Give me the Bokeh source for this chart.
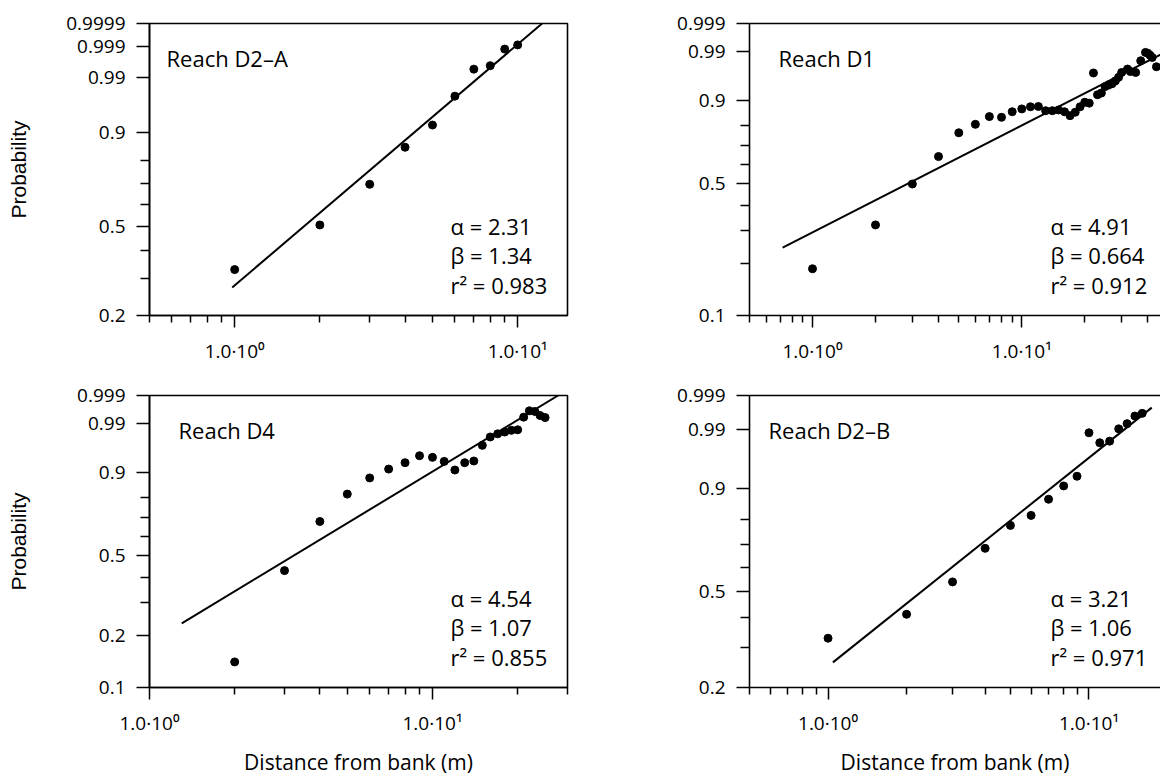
import numpy as np
from bokeh.plotting import figure
from bokeh.models import FixedTicker, Range1d, Label, LogAxis
from bokeh.layouts import column, row
from bokeh.embed import file_html
from bokeh.resources import INLINE

FONT = "Open Sans"

# ---------------- data ----------------
# Reach D2-A
d2a_x = [1, 2, 3, 4, 5, 6, 7, 8, 9, 10]
d2a_p = [0.330, 0.507, 0.695, 0.851, 0.920, 0.974, 0.9942, 0.9954, 0.9987, 0.9991]
d2a_fit_x = [0.98, 12.2]
d2a_fit_p = [0.273, 0.9999]
d2a_stats = ["\u03b1 = 2.31", "\u03b2 = 1.34", "r\u00b2 = 0.983"]

# Reach D1
d1_x = [1, 2, 3, 4, 5, 6, 7, 8, 9, 10, 11, 12, 13, 14, 15, 16, 17, 18, 19, 20,
        21, 22, 23, 24, 25, 26, 27, 28, 29, 30, 32, 33, 35, 37, 39, 40, 41, 42, 44]
d1_p = [0.186, 0.320, 0.500, 0.642, 0.764, 0.804, 0.838, 0.835, 0.858, 0.869,
        0.877, 0.878, 0.862, 0.862, 0.865, 0.858, 0.842, 0.856, 0.877, 0.893,
        0.890, 0.9666, 0.917, 0.922, 0.939, 0.943, 0.946, 0.952, 0.959, 0.9675,
        0.9726, 0.969, 0.9675, 0.9826, 0.9896, 0.9890, 0.9875, 0.9857, 0.9757]
d1_fit_x = [0.72, 46]
d1_fit_p = [0.243, 0.988]
d1_stats = ["\u03b1 = 4.91", "\u03b2 = 0.664", "r\u00b2 = 0.912"]

# Reach D4
d4_x = [2, 3, 4, 5, 6, 7, 8, 9, 10, 11, 12, 13, 14, 15, 16, 17, 18, 19, 20,
        21, 22, 23, 24, 25]
d4_p = [0.141, 0.430, 0.679, 0.814, 0.880, 0.910, 0.9285, 0.9458, 0.942, 0.932,
        0.907, 0.9285, 0.933, 0.966, 0.9779, 0.9815, 0.9833, 0.9849, 0.9854,
        0.9937, 0.9961, 0.9959, 0.9944, 0.9935]
d4_fit_x = [1.3, 27.8]
d4_fit_p = [0.232, 0.999]
d4_stats = ["\u03b1 = 4.54", "\u03b2 = 1.07", "r\u00b2 = 0.855"]

# Reach D2-B
d2b_x = [1, 2, 3, 4, 5, 6, 7, 8, 9, 10, 11, 12, 13, 14, 15, 16]
d2b_p = [0.3285, 0.410, 0.538, 0.682, 0.777, 0.815, 0.870, 0.908, 0.931, 0.9884,
         0.981, 0.9824, 0.9906, 0.9930, 0.9956, 0.9963]
d2b_fit_x = [1.044, 17.4]
d2b_fit_p = [0.259, 0.9975]
d2b_stats = ["\u03b1 = 3.21", "\u03b2 = 1.06", "r\u00b2 = 0.971"]

# tick labels
x_major_ticks = [1, 10]
x_major_labels = ["1.0\u00b710\u2070", "1.0\u00b710\u00b9"]
d2a_yticks = ["0.2", "0.5", "0.9", "0.99", "0.999", "0.9999"]
d1_yticks = ["0.1", "0.5", "0.9", "0.99", "0.999"]
d4_yticks = ["0.1", "0.2", "0.5", "0.9", "0.99", "0.999"]
d2b_yticks = ["0.2", "0.5", "0.9", "0.99", "0.999"]
y_minor_a = [0.3, 0.4, 0.6, 0.7, 0.8]
y_minor_b = [0.2, 0.3, 0.4, 0.6, 0.7, 0.8]
x_minor_low = [0.5, 0.6, 0.7, 0.8, 0.9, 2, 3, 4, 5, 6, 7, 8, 9]
x_minor_d1 = x_minor_low + [20, 30, 40]
x_minor_d4 = [2, 3, 4, 5, 6, 7, 8, 9, 20, 30]


def weib(p):
    """Weibull probability-paper coordinate."""
    p = np.asarray(p, dtype=float)
    return np.log(-np.log(1.0 - p))


LEFT_BORDER = 149


def make_panel(name, xs, ps, fit_x, fit_p, stats, x_start, x_end, x_minor,
               y_labels, y_minor, width, height, top, bottom, right,
               is_left, is_bottom, ylabel_standoff, reach_dx):
    y_vals = [float(weib(float(s))) for s in y_labels]
    y0, y1 = y_vals[0], y_vals[-1]
    fw = width - LEFT_BORDER - right
    fh = height - top - bottom

    p = figure(frame_width=fw, frame_height=fh, x_axis_type="log",
               x_range=Range1d(x_start, x_end), y_range=Range1d(y0, y1),
               output_backend="svg", toolbar_location=None, title=None,
               min_border_left=LEFT_BORDER, min_border_right=right,
               min_border_top=top, min_border_bottom=bottom)
    p.background_fill_color = "white"
    p.border_fill_color = "white"
    p.xgrid.visible = False
    p.ygrid.visible = False

    # x axis (the one below)
    xa = p.below[0]
    xa.ticker = FixedTicker(ticks=x_major_ticks, minor_ticks=x_minor)
    xa.major_label_overrides = {t: lab for t, lab in zip(x_major_ticks, x_major_labels)}
    xa.axis_line_color = "black"
    xa.axis_line_width = 1.6
    xa.major_tick_line_color = "black"
    xa.major_tick_line_width = 1.5
    xa.minor_tick_line_color = "black"
    xa.minor_tick_line_width = 1.5
    xa.major_tick_in = 0
    xa.major_tick_out = 12
    xa.minor_tick_in = 0
    xa.minor_tick_out = 7
    xa.major_label_standoff = 10
    xa.major_label_text_font = FONT
    xa.major_label_text_font_size = "19px"
    xa.major_label_text_color = "black"
    if is_bottom:
        xa.axis_label = "Distance from bank (m)"
        xa.axis_label_text_font = FONT
        xa.axis_label_text_font_size = "21px"
        xa.axis_label_text_font_style = "normal"
        xa.axis_label_text_color = "black"
        xa.axis_label_standoff = 9

    # y axis
    ya = p.left[0]
    ya.ticker = FixedTicker(ticks=y_vals, minor_ticks=[float(v) for v in weib(y_minor)])
    ya.major_label_overrides = {v: lab for v, lab in zip(y_vals, y_labels)}
    ya.axis_line_color = "black"
    ya.axis_line_width = 1.6
    ya.major_tick_line_color = "black"
    ya.major_tick_line_width = 1.5
    ya.minor_tick_line_color = "black"
    ya.minor_tick_line_width = 1.5
    ya.major_tick_in = 0
    ya.major_tick_out = 13
    ya.minor_tick_in = 0
    ya.minor_tick_out = 9
    ya.major_label_standoff = 11
    ya.major_label_text_font = FONT
    ya.major_label_text_font_size = "19px"
    ya.major_label_text_color = "black"
    if is_left:
        ya.axis_label = "Probability"
        ya.axis_label_text_font = "Liberation Sans"
        ya.axis_label_text_font_size = "21px"
        ya.axis_label_text_font_style = "normal"
        ya.axis_label_text_color = "black"
        ya.axis_label_standoff = ylabel_standoff

    if is_left:
        p.outline_line_color = "black"
        p.outline_line_width = 1.6
        p.outline_line_alpha = 1.0
    else:
        p.outline_line_color = None
        top_axis = LogAxis(ticker=FixedTicker(ticks=[]),
                           major_tick_line_color=None,
                           minor_tick_line_color=None,
                           major_tick_out=0, major_tick_in=0,
                           minor_tick_out=0, minor_tick_in=0,
                           major_label_text_font_size="0px",
                           axis_line_color="black", axis_line_width=1.6)
        p.add_layout(top_axis, "above")

    # fitted line and observations
    p.line(fit_x, weib(fit_p), line_color="black", line_width=2)
    p.scatter(xs, weib(ps), size=8, fill_color="black", line_color="black")

    # helper: position inside the frame given pixel offsets from top-left
    def at(dx, dy):
        x = x_start * (x_end / x_start) ** (dx / fw)
        y = y1 - (y1 - y0) * dy / fh
        return x, y

    lx, ly = at(reach_dx, 34)
    p.add_layout(Label(x=lx, y=ly, text=name, text_font=FONT,
                       text_font_size="22px", text_color="black",
                       text_baseline="middle", text_align="left"))
    for i, s in enumerate(stats):
        sx, sy = at(301, 202 + 29.5 * i)
        p.add_layout(Label(x=sx, y=sy, text=s, text_font=FONT,
                           text_font_size="22px", text_color="black",
                           text_baseline="middle", text_align="left"))
    return p


p_d2a = make_panel("Reach D2\u2013A", d2a_x, d2a_p, d2a_fit_x, d2a_fit_p, d2a_stats,
                   0.5, 15, x_minor_low, d2a_yticks, y_minor_a,
                   600, 363, 23, 48, 33, True, False, 33, 17)
p_d1 = make_panel("Reach D1", d1_x, d1_p, d1_fit_x, d1_fit_p, d1_stats,
                  0.5, 46, x_minor_d1, d1_yticks, y_minor_b,
                  560, 363, 23, 48, 0, False, False, 0, 29)
p_d4 = make_panel("Reach D4", d4_x, d4_p, d4_fit_x, d4_fit_p, d4_stats,
                  1, 30, x_minor_d4, d4_yticks, y_minor_a,
                  600, 410, 29, 89, 33, True, True, 44, 29)
p_d2b = make_panel("Reach D2\u2013B", d2b_x, d2b_p, d2b_fit_x, d2b_fit_p, d2b_stats,
                   0.5, 18.8, x_minor_low, d2b_yticks, y_minor_a,
                   560, 410, 29, 89, 0, False, True, 0, 19)

layout = column(row(p_d2a, p_d1), row(p_d4, p_d2b))

open("out.html", "w").write(file_html(layout, INLINE))
